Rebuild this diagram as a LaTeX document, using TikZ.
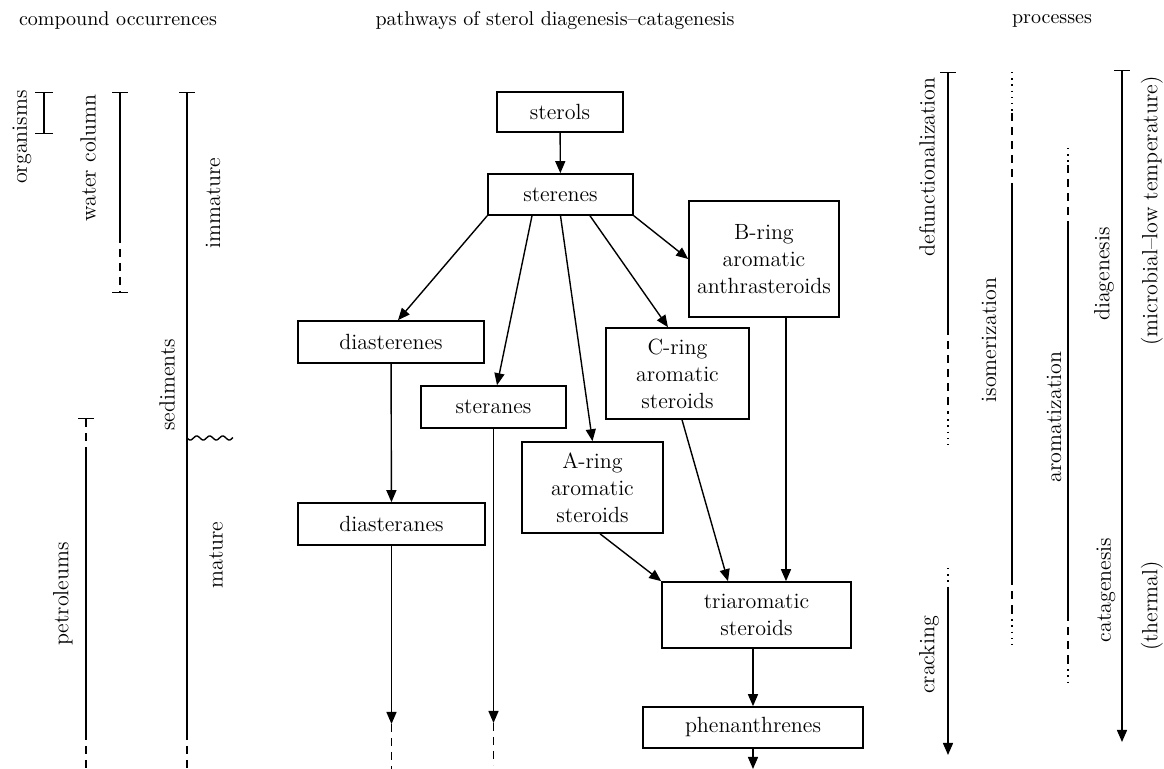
\documentclass[tikz,border=0pt]{standalone}
\usepackage{tikz}
\usetikzlibrary{arrows.meta,calc}

\begin{document}
\begin{tikzpicture}[x=0.5pt, y=-0.5pt,
    box/.style={draw, line width=0.8pt, align=center, inner sep=0pt, font=\fontsize{11}{13.5}\selectfont},
    lbl/.style={rotate=90, inner sep=0pt, font=\fontsize{11}{13}\selectfont},
    head/.style={inner sep=0pt, font=\fontsize{10}{12}\selectfont},
    arr/.style={line width=0.7pt, -{Triangle[length=6pt,width=5pt]}},
    bar/.style={line width=0.7pt},
    dsh/.style={line width=0.7pt, dash pattern=on 4pt off 3pt},
    dts/.style={line width=0.7pt, dash pattern=on 0.7pt off 2.4pt}]
    \useasboundingbox (0,0) rectangle (1164,769);

    % Column headers
    \node[head] (hcomp) at (118,21) {compound occurrences};
    \node[head] (hpath) at (555,21) {pathways of sterol diagenesis--catagenesis};
    \node[head] (hproc) at (1052,21) {processes};

    % Compound occurrences
    \draw[bar, {Bar[width=9pt]}-{Bar[width=9pt]}] (44,92) -- (44,134);
    \node[lbl] (organisms) at (22,137) {organisms};

    \draw[bar, {Bar[width=8pt]}-] (120,92) -- (120,235);
    \draw[dsh, -{Bar[width=8pt]}] (120,235) -- (120,293);
    \node[lbl] (water) at (88,158) {water column};

    \draw[bar, {Bar[width=8pt]}-] (187,92) -- (187,732);
    \draw[dsh] (187,732) -- (187,769);
    \draw[bar, domain=0:46, samples=80] plot ({187+\x}, {438+2*sin(\x*27.7)});
    \node[lbl] (sediments) at (167,385) {sediments};
    \node[lbl] (immature) at (213,203) {immature};
    \node[lbl] (mature) at (216,555) {mature};

    \draw[dsh, {Bar[width=8pt]}-] (86,418) -- (86,455);
    \draw[bar] (86,455) -- (86,732);
    \draw[dsh] (86,732) -- (86,769);
    \node[lbl] (petroleums) at (63,594) {petroleums};

    % Pathways
    \node[box, minimum width=63pt, minimum height=20pt] (sterols) at (560,112) {sterols};
    \node[box, minimum width=72.5pt, minimum height=20.5pt] (sterenes) at (560.5,194.5) {sterenes};
    \node[box, minimum width=75pt, minimum height=58pt] (Bring) at (764,259) {B-ring\\aromatic\\anthrasteroids};
    \node[box, minimum width=93pt, minimum height=21pt] (diasterenes) at (391,342) {diasterenes};
    \node[box, minimum width=72.5pt, minimum height=21pt] (steranes) at (493.5,407) {steranes};
    \node[box, minimum width=71.5pt, minimum height=45.5pt] (Cring) at (677.5,373.5) {C-ring\\aromatic\\steroids};
    \node[box, minimum width=70.5pt, minimum height=45.5pt] (Aring) at (592.5,487.5) {A-ring\\aromatic\\steroids};
    \node[box, minimum width=93.5pt, minimum height=21pt] (diasteranes) at (391.5,524) {diasteranes};
    \node[box, minimum width=94.5pt, minimum height=33pt] (triaro) at (756.5,615) {triaromatic\\steroids};
    \node[box, minimum width=110pt, minimum height=20.5pt] (phenan) at (753,727.5) {phenanthrenes};

    \coordinate (diaend) at (391.5,724);
    \coordinate (diatail) at (391.5,769);
    \coordinate (stend) at (493.5,723);
    \coordinate (sttail) at (493.5,765);
    \coordinate (phend) at (753,769);

    \draw[arr] (sterols) -- (sterenes);
    \draw[arr] (sterenes.south west) -- ($(diasterenes.north)+(7,0)$);
    \draw[arr] ($(sterenes.south)+(-28.5,0)$) -- ($(steranes.north)+(3.5,0)$);
    \draw[arr] (sterenes.south) -- (Aring.north);
    \draw[arr] ($(sterenes.south)+(29.5,0)$) -- ($(Cring.north)+(-9.5,0)$);
    \draw[arr] (sterenes.south east) -- (Bring.west);
    \draw[arr] (diasterenes) -- (diasteranes);
    \draw[arr] (diasteranes) -- (diaend);
    \draw[dsh] (diaend) -- (diatail);
    \draw[arr] (steranes) -- (stend);
    \draw[dsh] (stend) -- (sttail);
    \draw[arr] ($(Cring.south)+(4.5,0)$) -- ($(triaro.north)+(-28.5,0)$);
    \draw[arr] ($(Aring.south)+(7.5,0)$) -- (triaro.north west);
    \draw[arr] ($(Bring.south)+(22,0)$) -- ($(triaro.north)+(29.5,0)$);
    \draw[arr] (triaro.south -| phenan.north) -- (phenan.north);
    \draw[arr] (phenan) -- (phend);

    % Processes
    \draw[bar, {Bar[width=8pt]}-] (948,72) -- (948,327);
    \draw[dsh] (948,327) -- (948,413);
    \draw[dts] (948,413) -- (948,447);
    \node[lbl] (defunc) at (927,167) {defunctionalization};
    \draw[dts] (948,568) -- (948,588);
    \draw[arr] (948,588) -- (948,755);
    \node[lbl] (cracking) at (929,655) {cracking};

    \draw[dts] (1012,72) -- (1012,113);
    \draw[dsh] (1012,113) -- (1012,183);
    \draw[bar] (1012,183) -- (1012,577);
    \draw[dsh] (1012,577) -- (1012,613);
    \draw[dts] (1012,613) -- (1012,647);
    \node[lbl] (isomer) at (989,340) {isomerization};

    \draw[dts] (1068,148) -- (1068,165);
    \draw[dsh] (1068,165) -- (1068,227);
    \draw[bar] (1068,227) -- (1068,613);
    \draw[dsh] (1068,613) -- (1068,663);
    \draw[dts] (1068,663) -- (1068,687);
    \node[lbl] (aromat) at (1054,417) {aromatization};

    \draw[arr, {Bar[width=8pt]}-{Triangle[length=6pt,width=5pt]}] (1122,70) -- (1122,742);
    \node[lbl] (diagen) at (1104,274) {diagenesis};
    \node[lbl] (microb) at (1152,211) {(microbial--low temperature)};
    \node[lbl] (catagen) at (1106,590) {catagenesis};
    \node[lbl] (thermal) at (1152,606) {(thermal)};
\end{tikzpicture}
\end{document}
